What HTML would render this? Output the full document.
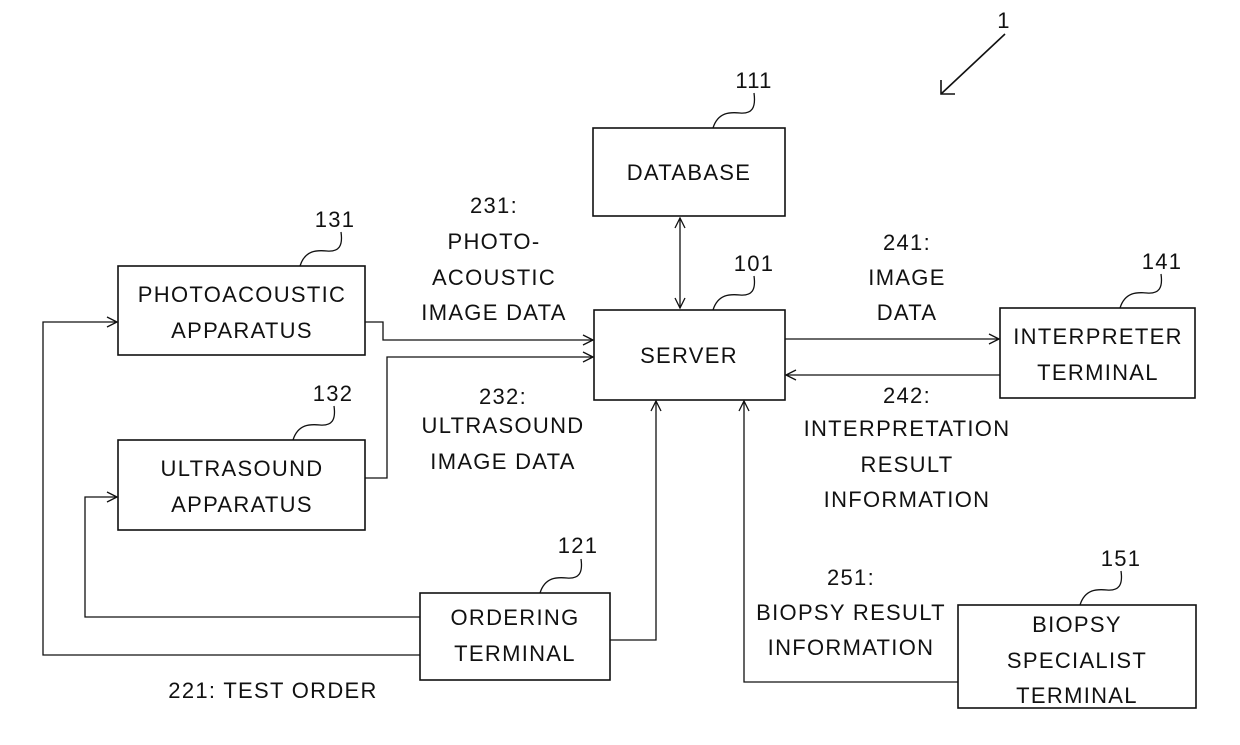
<!DOCTYPE html>
<html><head><meta charset="utf-8"><style>
html,body{margin:0;padding:0;background:#fff}
svg text{font-family:"Liberation Sans",sans-serif;font-size:22px;letter-spacing:1.3px;fill:#111}
</style></head><body>
<svg width="1240" height="740" viewBox="0 0 1240 740" xmlns="http://www.w3.org/2000/svg">
<defs>
<marker id="a" viewBox="0 0 12 12" refX="11" refY="6" markerWidth="12" markerHeight="12" markerUnits="userSpaceOnUse" orient="auto-start-reverse">
<path d="M1,1 L11,6 L1,11" fill="none" stroke="#111" stroke-width="1.3"/></marker>
</defs>
<g fill="none" stroke="#111" stroke-width="1.6">
<rect x="593" y="128" width="192" height="88"/>
<rect x="594" y="310" width="191" height="90"/>
<rect x="118" y="266" width="247" height="89"/>
<rect x="118" y="440" width="247" height="90"/>
<rect x="420" y="593" width="190" height="87"/>
<rect x="1000" y="308" width="195" height="90"/>
<rect x="958" y="605" width="238" height="103"/>
</g>
<g fill="none" stroke="#111" stroke-width="1.3">
<line x1="680" y1="218" x2="680" y2="308" marker-start="url(#a)" marker-end="url(#a)"/>
<polyline points="365,322 383,322 383,340 593,340" marker-end="url(#a)"/>
<polyline points="365,478 387,478 387,357 593,357" marker-end="url(#a)"/>
<line x1="785" y1="339" x2="999" y2="339" marker-end="url(#a)"/>
<line x1="1000" y1="375" x2="786" y2="375" marker-end="url(#a)"/>
<polyline points="610,640 656,640 656,401" marker-end="url(#a)"/>
<polyline points="958,682 744,682 744,401" marker-end="url(#a)"/>
<polyline points="420,617 85,617 85,497 117,497" marker-end="url(#a)"/>
<polyline points="420,655 43,655 43,322 117,322" marker-end="url(#a)"/>
<line x1="1005" y1="34" x2="941" y2="94" stroke-width="1.6"/>
<polyline points="941,80 941,94 955,94" stroke-width="1.6"/>
<path d="M713,128 C718,112 730,112 740,113 C752,114 756,108 754,93"/>
<path d="M713,310 C718,294 730,294 740,295 C752,296 756,290 754,276"/>
<path d="M300,266 C305,250 317,250 327,251 C339,252 343,246 341,232"/>
<path d="M293,440 C298,424 310,424 320,425 C332,426 336,420 334,406"/>
<path d="M540,593 C545,577 557,577 567,578 C579,579 583,573 581,559"/>
<path d="M1120,308 C1125,292 1137,292 1147,293 C1159,294 1163,288 1161,274"/>
<path d="M1080,605 C1085,589 1097,589 1107,590 C1119,591 1123,585 1121,571"/>
</g>
<g text-anchor="middle">
<text x="1004" y="28">1</text>
<text x="754" y="88">111</text>
<text x="754" y="271">101</text>
<text x="335" y="227">131</text>
<text x="333" y="401">132</text>
<text x="578" y="553">121</text>
<text x="1162" y="269">141</text>
<text x="1121" y="566">151</text>
<text x="689" y="180">DATABASE</text>
<text x="689" y="363">SERVER</text>
<text x="242" y="302">PHOTOACOUSTIC</text>
<text x="242" y="338">APPARATUS</text>
<text x="242" y="476">ULTRASOUND</text>
<text x="242" y="512">APPARATUS</text>
<text x="515" y="625">ORDERING</text>
<text x="515" y="661">TERMINAL</text>
<text x="1098" y="344">INTERPRETER</text>
<text x="1098" y="380">TERMINAL</text>
<text x="1077" y="632">BIOPSY</text>
<text x="1077" y="668">SPECIALIST</text>
<text x="1077" y="703">TERMINAL</text>
<text x="494" y="213">231:</text>
<text x="494" y="249">PHOTO-</text>
<text x="494" y="285">ACOUSTIC</text>
<text x="494" y="320">IMAGE DATA</text>
<text x="503" y="404">232:</text>
<text x="503" y="433">ULTRASOUND</text>
<text x="503" y="469">IMAGE DATA</text>
<text x="907" y="250">241:</text>
<text x="907" y="285">IMAGE</text>
<text x="907" y="320">DATA</text>
<text x="907" y="403">242:</text>
<text x="907" y="436">INTERPRETATION</text>
<text x="907" y="472">RESULT</text>
<text x="907" y="507">INFORMATION</text>
<text x="851" y="585">251:</text>
<text x="851" y="620">BIOPSY RESULT</text>
<text x="851" y="655">INFORMATION</text>
<text x="273" y="698">221: TEST ORDER</text>
</g>
</svg>
</body></html>
